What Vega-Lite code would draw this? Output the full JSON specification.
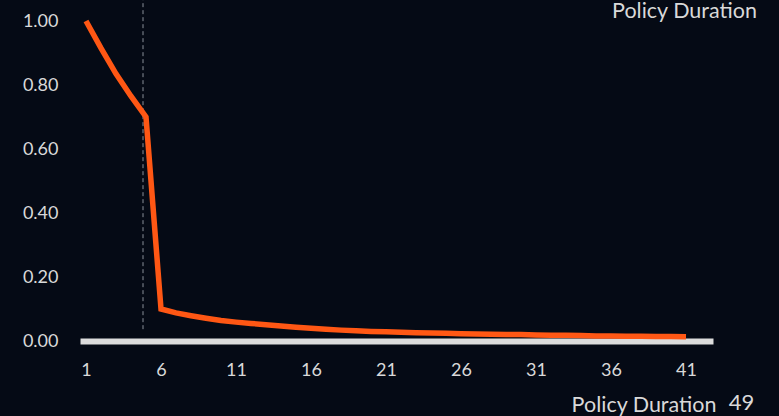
{
  "$schema": "https://vega.github.io/schema/vega-lite/v6.json",
  "width": 633,
  "height": 320,
  "autosize": {"type": "none"},
  "padding": {"left": 80, "top": 21, "right": 66, "bottom": 75},
  "background": "#050a15",
  "config": {
    "view": {"stroke": null},
    "font": "Lato"
  },
  "layer": [
    {
      "data": {"values": [{"marker": "cutoff"}]},
      "mark": {"type": "rule", "color": "#8a8f99", "strokeWidth": 1, "strokeDash": [4, 3], "clip": false},
      "encoding": {
        "x": {"datum": 4.8, "type": "quantitative"},
        "y": {"datum": 0.037, "type": "quantitative"},
        "y2": {"datum": 1.07}
      }
    },
    {
      "data": {
        "values": [
          {"duration": 1, "rate": 1.0},
          {"duration": 2, "rate": 0.915},
          {"duration": 3, "rate": 0.835},
          {"duration": 4, "rate": 0.765},
          {"duration": 5, "rate": 0.70},
          {"duration": 6, "rate": 0.10},
          {"duration": 7, "rate": 0.088},
          {"duration": 8, "rate": 0.079},
          {"duration": 9, "rate": 0.071},
          {"duration": 10, "rate": 0.064},
          {"duration": 11, "rate": 0.059},
          {"duration": 12, "rate": 0.055},
          {"duration": 13, "rate": 0.051},
          {"duration": 14, "rate": 0.047},
          {"duration": 15, "rate": 0.043},
          {"duration": 16, "rate": 0.040},
          {"duration": 17, "rate": 0.037},
          {"duration": 18, "rate": 0.034},
          {"duration": 19, "rate": 0.032},
          {"duration": 20, "rate": 0.030},
          {"duration": 21, "rate": 0.029},
          {"duration": 22, "rate": 0.027},
          {"duration": 23, "rate": 0.026},
          {"duration": 24, "rate": 0.025},
          {"duration": 25, "rate": 0.024},
          {"duration": 26, "rate": 0.023},
          {"duration": 27, "rate": 0.022},
          {"duration": 28, "rate": 0.021},
          {"duration": 29, "rate": 0.020},
          {"duration": 30, "rate": 0.020},
          {"duration": 31, "rate": 0.019},
          {"duration": 32, "rate": 0.018},
          {"duration": 33, "rate": 0.018},
          {"duration": 34, "rate": 0.017},
          {"duration": 35, "rate": 0.016},
          {"duration": 36, "rate": 0.016},
          {"duration": 37, "rate": 0.015},
          {"duration": 38, "rate": 0.015},
          {"duration": 39, "rate": 0.014},
          {"duration": 40, "rate": 0.014},
          {"duration": 41, "rate": 0.013}
        ]
      },
      "mark": {"type": "line", "color": "#ff5714", "strokeWidth": 5.5, "strokeJoin": "miter"},
      "encoding": {
        "x": {
          "field": "duration",
          "type": "quantitative",
          "scale": {"domain": [0.6, 42.8], "nice": false, "zero": false},
          "axis": {
            "values": [1, 6, 11, 16, 21, 26, 31, 36, 41],
            "grid": false,
            "ticks": false,
            "domainColor": "#dcdcdc",
            "domainWidth": 6,
            "labelColor": "#d9d9d9",
            "labelFont": "Lato",
            "labelFontSize": 18,
            "labelPadding": 20,
            "title": "Policy Duration",
            "titleFont": "Lato",
            "titleFontSize": 21.5,
            "titleFontWeight": "normal",
            "titleColor": "#d9d9d9",
            "titleAlign": "right",
            "titleBaseline": "alphabetic",
            "titleX": 636,
            "titleY": 70
          }
        },
        "y": {
          "field": "rate",
          "type": "quantitative",
          "scale": {"domain": [0, 1], "nice": false},
          "axis": {
            "values": [0, 0.2, 0.4, 0.6, 0.8, 1.0],
            "format": ".2f",
            "grid": false,
            "ticks": false,
            "domain": false,
            "labelColor": "#d9d9d9",
            "labelFont": "Lato",
            "labelFontSize": 18,
            "labelPadding": 22,
            "title": null
          }
        }
      }
    },
    {
      "data": {"values": [{"label": "Policy Duration"}]},
      "mark": {"type": "text", "font": "Lato", "fontSize": 21.5, "fontWeight": "normal", "color": "#d9d9d9", "align": "right", "baseline": "top", "clip": false},
      "encoding": {
        "text": {"field": "label"},
        "x": {"datum": 45.73, "type": "quantitative"},
        "y": {"datum": 1.062, "type": "quantitative"}
      }
    },
    {
      "data": {"values": [{"label": "49"}]},
      "mark": {"type": "text", "font": "Lato", "fontSize": 22, "fontWeight": "normal", "color": "#d9d9d9", "align": "center", "baseline": "alphabetic", "clip": false},
      "encoding": {
        "text": {"field": "label"},
        "x": {"datum": 44.7, "type": "quantitative"},
        "y": {"datum": -0.215, "type": "quantitative"}
      }
    }
  ]
}
